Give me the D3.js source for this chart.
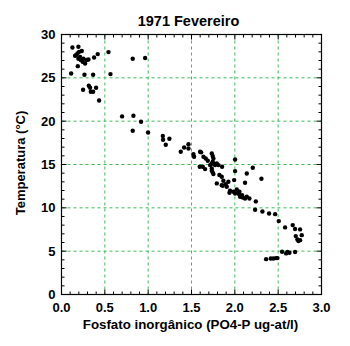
<!DOCTYPE html>
<html><head><meta charset="utf-8">
<script src="https://cdn.jsdelivr.net/npm/d3@7"></script>
<style>body{margin:0;background:#fff}svg{display:block}text{font-family:"Liberation Sans",Arial,sans-serif;font-weight:bold;fill:#000}</style>
</head><body><svg id="c" width="350" height="346"></svg>
<script>
const title = "1971 Fevereiro";
const xTitle = "Fosfato inorgânico (PO4-P ug-at/l)";
const yTitle = "Temperatura (°C)";
const xTicks = [0,0.5,1.0,1.5,2.0,2.5,3.0];
const yTicks = [0,5,10,15,20,25,30];
const phosphate = [0.126,0.195,0.168,0.184,0.203,0.234,0.215,0.195,0.222,0.245,0.272,0.292,0.311,0.188,0.376,0.418,0.542,0.822,0.965,0.111,0.265,0.365,0.565,0.157,0.253,
0.315,0.249,0.330,0.338,0.365,0.399,0.434,0.699,0.830,0.918,0.822,0.999,1.169,1.172,1.245,1.203,1.376,1.415,1.465,1.465,
1.522,1.530,1.611,1.638,1.664,1.688,1.734,1.745,1.753,1.745,1.595,1.657,1.715,1.734,1.761,1.792,1.811,1.853,1.734,1.745,1.753,1.822,1.849,
1.792,1.868,1.861,1.895,1.907,1.926,1.945,1.938,1.984,2.003,2.022,2.038,2.049,2.003,2.003,1.992,2.061,2.084,2.092,2.118,2.138,2.138,2.207,2.118,2.307,
2.242,2.234,2.318,2.395,2.465,2.507,2.580,2.668,2.695,2.753,2.703,2.772,2.722,2.734,2.753,2.545,2.592,2.607,2.630,2.695,2.361,2.415,2.445,2.476,2.492,
1.599,1.734,1.630,1.772,2.168,2.053,1.849];
const temperature = [28.5,28.58,27.6,27.8,28.0,28.1,27.4,27.2,27.05,26.85,26.66,27.05,27.12,26.35,27.35,27.74,27.97,27.2,27.28,25.5,25.35,25.35,25.43,27.55,27.2,
24.08,23.62,23.85,23.39,23.39,23.85,22.39,20.55,20.62,19.93,18.89,18.7,18.28,17.85,17.97,17.28,16.47,16.97,17.35,16.85,
16.2,15.9,16.4,15.9,15.7,15.43,16.28,15.97,15.7,15.32,14.74,14.47,14.93,15.12,15.05,15.12,14.93,14.74,14.28,14.08,13.89,13.78,13.58,
12.82,13.12,12.55,12.74,12.43,13.01,11.97,11.74,11.85,11.66,12.12,11.85,11.58,15.58,14.24,13.2,11.28,11.47,11.2,11.08,11.28,13.97,14.62,12.89,13.35,
10.74,9.78,9.58,9.35,9.27,8.47,7.74,8.01,7.55,7.51,6.74,6.85,6.35,6.16,6.27,4.93,4.74,4.9,4.82,4.9,4.08,4.16,4.16,4.2,4.2,
16.47,14.55,14.74,14.93,11.08,11.85,12.62];

const svg = d3.select("#c");
const L=61.5, R=321.5, T=34.5, B=294.5;
const x = d3.scaleLinear().domain([0,3]).range([L,R]);
const y = d3.scaleLinear().domain([0,30]).range([B,T]);
const grid = "#3dbb5a";

// gridlines
svg.append("g").selectAll("line").data(xTicks.slice(1,-1)).join("line")
  .attr("x1",d=>x(d)).attr("x2",d=>x(d)).attr("y1",T).attr("y2",B)
  .attr("stroke",grid).attr("stroke-width",1).attr("stroke-dasharray","3,3");
svg.append("g").selectAll("line").data(yTicks.slice(1,-1)).join("line")
  .attr("y1",d=>y(d)).attr("y2",d=>y(d)).attr("x1",L).attr("x2",R)
  .attr("stroke",grid).attr("stroke-width",1).attr("stroke-dasharray","3,3");

// axes with inner ticks
const xMinor = d3.range(0,31).map(i=>i/10);
const yMinor = d3.range(0,31);
function tickLen(v, major){ return major ? 5 : 3; }
const gx = svg.append("g");
xMinor.forEach(v=>{
  const major = Math.abs(v*2-Math.round(v*2))<1e-6;
  gx.append("line").attr("x1",x(v)).attr("x2",x(v)).attr("y1",B).attr("y2",B-tickLen(v,major)).attr("stroke","#000");
  gx.append("line").attr("x1",x(v)).attr("x2",x(v)).attr("y1",T).attr("y2",T+tickLen(v,major)).attr("stroke","#000");
});
yMinor.forEach(v=>{
  const major = v%5===0;
  gx.append("line").attr("y1",y(v)).attr("y2",y(v)).attr("x1",L).attr("x2",L+tickLen(v,major)).attr("stroke","#000");
  gx.append("line").attr("y1",y(v)).attr("y2",y(v)).attr("x1",R).attr("x2",R-tickLen(v,major)).attr("stroke","#000");
});
svg.append("rect").attr("x",L).attr("y",T).attr("width",R-L).attr("height",B-T)
  .attr("fill","none").attr("stroke","#000").attr("stroke-width",1.2);

// tick labels
svg.append("g").selectAll("text").data(xTicks).join("text")
  .attr("x",d=>x(d)).attr("y",B+17).attr("text-anchor","middle").attr("font-size",13)
  .text(d=>d.toFixed(1));
svg.append("g").selectAll("text").data(yTicks).join("text")
  .attr("x",L-6).attr("y",d=>y(d)+4.5).attr("text-anchor","end").attr("font-size",13)
  .text(d=>d);

// titles
svg.append("text").attr("x",188.5).attr("y",26).attr("text-anchor","middle").attr("font-size",14.5).text(title);
svg.append("text").attr("x",190.5).attr("y",328.5).attr("text-anchor","middle").attr("font-size",13.3).text(xTitle);
svg.append("text").attr("transform","translate(25,163) rotate(-90)").attr("text-anchor","middle").attr("font-size",13).text(yTitle);

// points
svg.append("g").selectAll("circle").data(phosphate.map((p,i)=>[p,temperature[i]])).join("circle")
  .attr("cx",d=>x(d[0])).attr("cy",d=>y(d[1])).attr("r",2.2).attr("fill","#000");
</script></body></html>
